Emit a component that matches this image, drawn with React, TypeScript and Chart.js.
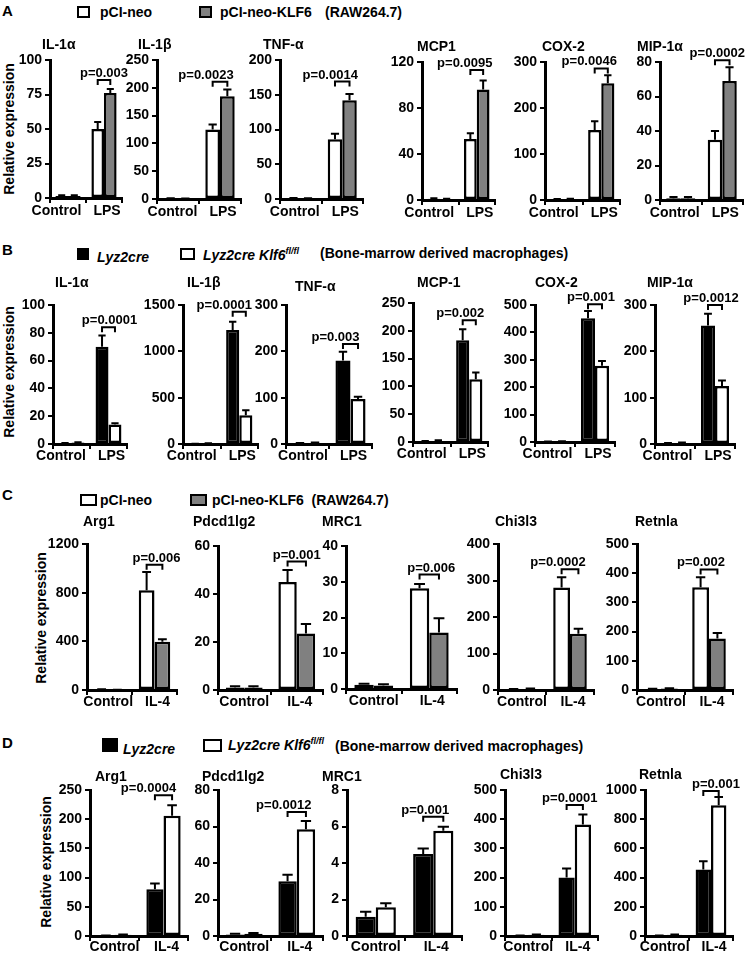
import React, { useEffect, useRef } from 'react';
import { Chart, registerables } from 'chart.js';
Chart.register(...registerables);

const FONT = "'Liberation Sans', Arial, Helvetica, sans-serif";

// ---------------- Panel A (RAW264.7, LPS) ----------------
const A_GENES = ['IL-1α', 'IL-1β', 'TNF-α', 'MCP1', 'COX-2', 'MIP-1α'];
const A_CATEGORIES = ['Control', 'LPS'];
const A_NEO = [[1.5, 50], [1, 125], [1, 86], [1, 53], [1, 152], [1, 35]];
const A_NEO_ERR = [[0.5, 5], [0.5, 9], [0.5, 8], [0.5, 5], [1, 19], [0.8, 5]];
const A_KLF6 = [[1.5, 76], [0.5, 185], [0.5, 142], [0.5, 96], [1.5, 254], [1, 69]];
const A_KLF6_ERR = [[0.5, 3], [0.5, 12], [0.5, 9], [0.5, 8], [1, 17], [0.8, 8]];
const A_P = ['p=0.003', 'p=0.0023', 'p=0.0014', 'p=0.0095', 'p=0.0046', 'p=0.0002'];
const A_P_LEVEL = [85.5, 211, 169, 113, 286, 81];
const A_YMAX = [100, 250, 200, 120, 300, 80];
const A_YSTEP = [25, 50, 50, 40, 100, 20];

// ---------------- Panel B (BMDM, LPS) ----------------
const B_GENES = ['IL-1α', 'IL-1β', 'TNF-α', 'MCP-1', 'COX-2', 'MIP-1α'];
const B_CATEGORIES = ['Control', 'LPS'];
const B_LYZ2CRE = [[0.5, 70], [1, 1230], [1, 180], [1, 183], [1, 452], [1, 256]];
const B_LYZ2CRE_ERR = [[0.3, 8], [1, 90], [1, 19], [1, 20], [1, 26], [1, 25]];
const B_KLF6KO = [[1, 14], [5, 310], [2, 97], [2, 113], [2, 278], [2, 125]];
const B_KLF6KO_ERR = [[0.3, 1], [2, 55], [1, 5], [1, 12], [1, 18], [1, 12]];
const B_P = ['p=0.0001', 'p=0.0001', 'p=0.003', 'p=0.002', 'p=0.001', 'p=0.0012'];
const B_P_LEVEL = [84, 1428, 216, 219, 503, 300];
const B_YMAX = [100, 1500, 300, 250, 500, 300];
const B_YSTEP = [20, 500, 100, 50, 100, 100];

// ---------------- Panel C (RAW264.7, IL-4) ----------------
const C_GENES = ['Arg1', 'Pdcd1lg2', 'MRC1', 'Chi3l3', 'Retnla'];
const C_CATEGORIES = ['Control', 'IL-4'];
const C_NEO = [[5, 820], [1, 45], [1.2, 28.2], [2, 281], [3, 352]];
const C_NEO_ERR = [[2, 150], [0.6, 5], [0.3, 1.2], [1, 28], [1, 34]];
const C_KLF6 = [[2, 397], [1, 23.5], [1, 15.8], [3, 154], [5, 176]];
const C_KLF6_ERR = [[1, 20], [0.6, 4], [0.3, 4], [1, 14], [1, 19]];
const C_P = ['p=0.006', 'p=0.001', 'p=0.006', 'p=0.0002', 'p=0.002'];
const C_P_LEVEL = [1030, 53.5, 32, 331, 413];
const C_YMAX = [1200, 60, 40, 400, 500];
const C_YSTEP = [400, 20, 10, 100, 100];

// ---------------- Panel D (BMDM, IL-4) ----------------
const D_GENES = ['Arg1', 'Pdcd1lg2', 'MRC1', 'Chi3l3', 'Retnla'];
const D_CATEGORIES = ['Control', 'IL-4'];
const D_LYZ2CRE = [[0.5, 80], [0.8, 30], [1.05, 4.5], [1, 200], [2, 455]];
const D_LYZ2CRE_ERR = [[0.3, 10], [0.5, 3.5], [0.28, 0.3], [0.5, 31], [1, 57]];
const D_KLF6KO = [[2, 206], [1.2, 58.5], [1.57, 5.77], [4, 382], [8, 895]];
const D_KLF6KO_ERR = [[0.5, 18], [0.5, 4.5], [0.22, 0.22], [1, 34], [2, 57]];
const D_P = ['p=0.0004', 'p=0.0012', 'p=0.001', 'p=0.0001', 'p=0.001'];
const D_P_LEVEL = [241, 68, 6.54, 449, 993];
const D_YMAX = [250, 80, 8, 500, 1000];
const D_YSTEP = [50, 20, 2, 100, 200];

// ---------------- Layout (page pixels) ----------------
const A_AXIS_LEFT = [50, 157, 280, 422, 545, 660];
const A_AXIS_RIGHT = [122, 241, 363, 495, 620, 743];
const A_AXIS_TOP = [60, 60, 60, 62, 62, 62];
const A_AXIS_BOTTOM = [198, 199, 199, 200, 200, 200];
const A_TITLE_X = [42, 138, 263, 417, 542, 637];
const A_TITLE_Y = [45, 45, 45, 47, 47, 47];
const A_P_SHIFT = [0, -14, -12, -12, -12, -5];

const B_AXIS_LEFT = [53, 183, 286, 413, 535, 655];
const B_AXIS_RIGHT = [127, 258, 372, 488, 615, 735];
const B_AXIS_TOP = [305, 305, 305, 303, 305, 305];
const B_AXIS_BOTTOM = [444, 444, 444, 442, 442, 444];
const B_TITLE_X = [55, 187, 295, 417, 535, 647];
const B_TITLE_Y = [283, 283, 287, 283, 283, 283];
const B_P_SHIFT = [1, -15, -15, -9, -4, -4];

const C_AXIS_LEFT = [87, 218, 346, 498, 637];
const C_AXIS_RIGHT = [177, 323, 457, 594, 733];
const C_AXIS_TOP = [544, 546, 546, 544, 544];
const C_AXIS_BOTTOM = [690, 690, 689, 690, 690];
const C_TITLE_X = [83, 193, 322, 495, 635];
const C_TITLE_Y = [522, 522, 522, 522, 522];
const C_P_SHIFT = [2, 0, 2, -12, -8];

const D_AXIS_LEFT = [90, 218, 347, 505, 645];
const D_AXIS_RIGHT = [188, 323, 462, 598, 733];
const D_AXIS_TOP = [790, 790, 790, 790, 790];
const D_AXIS_BOTTOM = [936, 936, 936, 936, 936];
const D_TITLE_X = [95, 202, 322, 500, 639];
const D_TITLE_Y = [777, 777, 777, 775, 775];
const D_P_SHIFT = [-15, -13, -8, -5, 5];

const WHITE = '#ffffff';
const GRAY = '#808080';
const BLACK = '#000000';

type Spec = {
  title: string; cats: string[];
  s1: number[]; s1Err: number[]; s1Color: string;
  s2: number[]; s2Err: number[]; s2Color: string;
  p: string; pLevel: number; ymax: number; ystep: number;
  left: number; right: number; top: number; bottom: number;
  titleX: number; titleY: number; pShift: number; labelDy: number;
};

function buildSpecs(
  genes: string[], cats: string[],
  s1: number[][], s1e: number[][], c1: string,
  s2: number[][], s2e: number[][], c2: string,
  p: string[], pl: number[], ymax: number[], ystep: number[],
  L: number[], R: number[], T: number[], B: number[], TX: number[], TY: number[], PS: number[], labelDy: number
): Spec[] {
  return genes.map((g, i) => ({
    title: g, cats,
    s1: s1[i], s1Err: s1e[i], s1Color: c1,
    s2: s2[i], s2Err: s2e[i], s2Color: c2,
    p: p[i], pLevel: pl[i], ymax: ymax[i], ystep: ystep[i],
    left: L[i], right: R[i], top: T[i], bottom: B[i], titleX: TX[i], titleY: TY[i], pShift: PS[i], labelDy,
  }));
}

const SPECS: Spec[] = [
  ...buildSpecs(A_GENES, A_CATEGORIES, A_NEO, A_NEO_ERR, WHITE, A_KLF6, A_KLF6_ERR, GRAY, A_P, A_P_LEVEL, A_YMAX, A_YSTEP,
    A_AXIS_LEFT, A_AXIS_RIGHT, A_AXIS_TOP, A_AXIS_BOTTOM, A_TITLE_X, A_TITLE_Y, A_P_SHIFT, 13),
  ...buildSpecs(B_GENES, B_CATEGORIES, B_LYZ2CRE, B_LYZ2CRE_ERR, BLACK, B_KLF6KO, B_KLF6KO_ERR, WHITE, B_P, B_P_LEVEL, B_YMAX, B_YSTEP,
    B_AXIS_LEFT, B_AXIS_RIGHT, B_AXIS_TOP, B_AXIS_BOTTOM, B_TITLE_X, B_TITLE_Y, B_P_SHIFT, 12),
  ...buildSpecs(C_GENES, C_CATEGORIES, C_NEO, C_NEO_ERR, WHITE, C_KLF6, C_KLF6_ERR, GRAY, C_P, C_P_LEVEL, C_YMAX, C_YSTEP,
    C_AXIS_LEFT, C_AXIS_RIGHT, C_AXIS_TOP, C_AXIS_BOTTOM, C_TITLE_X, C_TITLE_Y, C_P_SHIFT, 12),
  ...buildSpecs(D_GENES, D_CATEGORIES, D_LYZ2CRE, D_LYZ2CRE_ERR, BLACK, D_KLF6KO, D_KLF6KO_ERR, WHITE, D_P, D_P_LEVEL, D_YMAX, D_YSTEP,
    D_AXIS_LEFT, D_AXIS_RIGHT, D_AXIS_TOP, D_AXIS_BOTTOM, D_TITLE_X, D_TITLE_Y, D_P_SHIFT, 11),
];

const PAD_L = 50, PAD_T = 50, PAD_R = 12, PAD_B = 26;
const TICK_FONT_SIZE = 14;

function SmallBar({ spec }: { spec: Spec }) {
  const ref = useRef<HTMLCanvasElement | null>(null);
  const cl = spec.left - PAD_L;
  const ct = spec.top - PAD_T;
  const w = spec.right - spec.left + PAD_L + PAD_R;
  const h = spec.bottom - spec.top + PAD_T + PAD_B;

  useEffect(() => {
    if (!ref.current) return;
    const errs = [spec.s1Err, spec.s2Err];
    const deco = {
      id: 'deco',
      afterDatasetsDraw(chart: any) {
        const ctx = chart.ctx;
        const ys = chart.scales.y;
        const xs = chart.scales.x;
        ctx.save();
        ctx.strokeStyle = '#000';
        ctx.lineWidth = 2;
        ctx.lineCap = 'butt';
        // error bars (upper only)
        chart.data.datasets.forEach((ds: any, di: number) => {
          const meta = chart.getDatasetMeta(di);
          meta.data.forEach((bar: any, i: number) => {
            const v = ds.data[i];
            const e = errs[di][i];
            const x = bar.x;
            const y0 = ys.getPixelForValue(v);
            const y1 = ys.getPixelForValue(v + e);
            const cap = Math.max(3, bar.width * 0.28);
            ctx.beginPath();
            ctx.moveTo(x, y0);
            ctx.lineTo(x, y1);
            ctx.moveTo(x - cap, y1);
            ctx.lineTo(x + cap, y1);
            ctx.stroke();
          });
        });
        // significance bracket
        const b1 = chart.getDatasetMeta(0).data[1];
        const b2 = chart.getDatasetMeta(1).data[1];
        const by = ys.getPixelForValue(spec.pLevel);
        ctx.beginPath();
        ctx.moveTo(b1.x, by + 5);
        ctx.lineTo(b1.x, by);
        ctx.lineTo(b2.x, by);
        ctx.lineTo(b2.x, by + 5);
        ctx.stroke();
        ctx.fillStyle = '#000';
        ctx.font = `bold 13px ${FONT}`;
        ctx.textAlign = 'center';
        ctx.textBaseline = 'alphabetic';
        ctx.fillText(spec.p, (b1.x + b2.x) / 2 + spec.pShift, by - 3);
        // gene title
        ctx.font = `bold 14px ${FONT}`;
        ctx.textAlign = 'left';
        ctx.textBaseline = 'middle';
        ctx.fillText(spec.title, spec.titleX - cl, spec.titleY - ct);
        // category labels (spread apart like the original)
        ctx.font = `bold ${TICK_FONT_SIZE}px ${FONT}`;
        ctx.textAlign = 'center';
        const c0 = xs.getPixelForValue(0);
        const c1 = xs.getPixelForValue(1);
        const w0 = ctx.measureText(spec.cats[0]).width;
        const w1 = ctx.measureText(spec.cats[1]).width;
        const x1c = c1 + 3;
        const x0c = Math.min(c0, x1c - w1 / 2 - 12 - w0 / 2);
        const ly = xs.top + spec.labelDy;
        ctx.fillText(spec.cats[0], x0c, ly);
        ctx.fillText(spec.cats[1], x1c, ly);
        ctx.restore();
      },
    };
    const tickFont = { family: FONT, size: TICK_FONT_SIZE, weight: 'bold' as const };
    const chart = new Chart(ref.current, {
      type: 'bar',
      data: {
        labels: spec.cats,
        datasets: [
          { data: spec.s1, backgroundColor: spec.s1Color, borderColor: '#000', borderWidth: 2.5, borderSkipped: false, barPercentage: 1, categoryPercentage: 0.7 },
          { data: spec.s2, backgroundColor: spec.s2Color, borderColor: '#000', borderWidth: 2.5, borderSkipped: false, barPercentage: 1, categoryPercentage: 0.7 },
        ],
      },
      options: {
        responsive: false,
        animation: false,
        devicePixelRatio: 1,
        layout: { padding: { left: 0, top: PAD_T, right: PAD_R, bottom: 0 } },
        plugins: { legend: { display: false }, tooltip: { enabled: false }, title: { display: false } },
        scales: {
          x: {
            type: 'category',
            offset: true,
            grid: { display: true, drawOnChartArea: false, drawTicks: true, tickLength: 5, color: '#000', lineWidth: 2, offset: true },
            border: { display: true, color: '#000', width: 3 },
            ticks: { display: false },
            afterFit: (s: any) => { s.height = PAD_B; },
          },
          y: {
            min: 0,
            max: spec.ymax,
            grid: { display: true, drawOnChartArea: false, drawTicks: true, tickLength: 5, color: '#000', lineWidth: 2 },
            border: { display: true, color: '#000', width: 3 },
            ticks: { stepSize: spec.ystep, color: '#000', font: tickFont, padding: 3, callback: (v: any) => String(v) },
            afterFit: (s: any) => { s.width = PAD_L; },
          },
        },
      } as any,
      plugins: [deco],
    });
    return () => chart.destroy();
  }, []);

  return (
    <canvas
      ref={ref}
      width={w}
      height={h}
      style={{ position: 'absolute', left: cl, top: ct, width: w, height: h }}
    />
  );
}

function Txt({ x, y, size = 14, italic = false, children }: { x: number; y: number; size?: number; italic?: boolean; children: any }) {
  return (
    <div style={{
      position: 'absolute', left: x, top: y, transform: 'translateY(-50%)', whiteSpace: 'nowrap',
      fontSize: size, fontWeight: 'bold', fontStyle: italic ? 'italic' : 'normal', lineHeight: 1,
    }}>{children}</div>
  );
}

function Box({ x, y, w, h, color }: { x: number; y: number; w: number; h: number; color: string }) {
  return <div style={{ position: 'absolute', left: x, top: y, width: w, height: h, background: color, border: '2px solid #000', boxSizing: 'border-box' }} />;
}

function YLabel({ cx, cy, size }: { cx: number; cy: number; size: number }) {
  return (
    <div style={{
      position: 'absolute', left: cx, top: cy, transform: 'translate(-50%, -50%) rotate(-90deg)',
      whiteSpace: 'nowrap', fontSize: size, fontWeight: 'bold', lineHeight: 1,
    }}>Relative expression</div>
  );
}

const KO = () => (<>Lyz2cre Klf6<sup style={{ fontSize: 9, verticalAlign: 'super', lineHeight: 0 }}>fl/fl</sup></>);

export default function App() {
  return (
    <div style={{ position: 'absolute', left: 0, top: 0, width: 745, height: 955, overflow: 'hidden', background: '#fff', color: '#000', fontFamily: FONT }}>
      {/* Panel A header */}
      <Txt x={2} y={10} size={15}>A</Txt>
      <Box x={77} y={6} w={13} h={12} color={WHITE} />
      <Txt x={100} y={12}>pCI-neo</Txt>
      <Box x={199} y={6} w={13} h={12} color={GRAY} />
      <Txt x={220} y={12}>pCI-neo-KLF6</Txt>
      <Txt x={325} y={12}>(RAW264.7)</Txt>
      <YLabel cx={9} cy={129} size={14} />

      {/* Panel B header */}
      <Txt x={2} y={249} size={15}>B</Txt>
      <Box x={77} y={248} w={12} h={12} color={BLACK} />
      <Txt x={97} y={257} italic>Lyz2cre</Txt>
      <Box x={180} y={248} w={15} h={12} color={WHITE} />
      <Txt x={203} y={255} italic><KO /></Txt>
      <Txt x={320} y={253}>(Bone-marrow derived macrophages)</Txt>
      <YLabel cx={9} cy={372} size={14} />

      {/* Panel C header */}
      <Txt x={2} y={494} size={15}>C</Txt>
      <Box x={80} y={494} w={17} h={12} color={WHITE} />
      <Txt x={100} y={500}>pCI-neo</Txt>
      <Box x={190} y={494} w={17} h={12} color={GRAY} />
      <Txt x={212} y={500}>pCI-neo-KLF6&nbsp;&nbsp;(RAW264.7)</Txt>
      <YLabel cx={41} cy={618} size={14} />

      {/* Panel D header */}
      <Txt x={2} y={742} size={15}>D</Txt>
      <Box x={102} y={738} w={16} h={14} color={BLACK} />
      <Txt x={123} y={749} italic>Lyz2cre</Txt>
      <Box x={203} y={739} w={19} h={13} color={WHITE} />
      <Txt x={228} y={745} italic><KO /></Txt>
      <Txt x={335} y={746}>(Bone-marrow derived macrophages)</Txt>
      <YLabel cx={46} cy={862} size={14} />

      {SPECS.map((s, i) => <SmallBar key={i} spec={s} />)}
    </div>
  );
}
